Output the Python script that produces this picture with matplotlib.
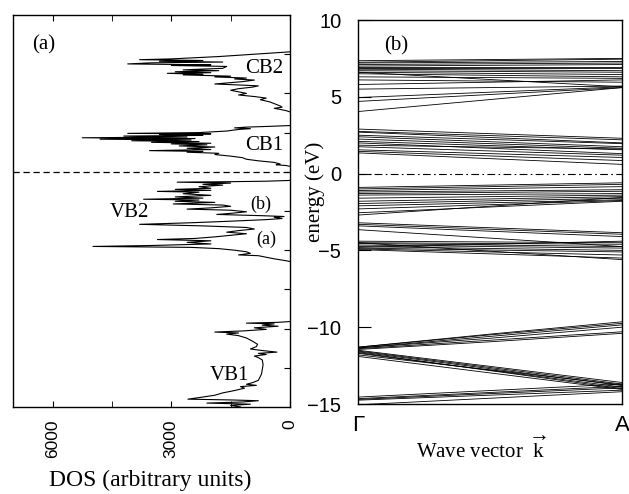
import numpy as np
import matplotlib.pyplot as plt

plt.rcParams['font.family'] = 'Liberation Serif'
plt.rcParams['mathtext.fontset'] = 'custom'
plt.rcParams['mathtext.rm'] = 'Liberation Serif'
plt.rcParams['mathtext.it'] = 'Liberation Serif'

# DOS traces, one per band (energy in eV, DOS in arbitrary units)
cb2_energy = [7.65, 7.6, 7.5, 7.35, 7.2, 7.15, 7.1, 7.05, 7.0, 6.95, 6.88, 6.82, 6.78, 6.72,
              6.6, 6.5, 6.45, 6.38, 6.32, 6.28, 6.22, 6.18, 6.1, 6.05, 5.98, 5.92, 5.85,
              5.75, 5.6, 5.55, 5.48, 5.4, 5.3, 5.2, 5.1, 5.0, 4.9, 4.8, 4.7, 4.6, 4.45,
              4.3, 4.2, 4.12, 4.05, 3.98, 3.9, 3.82]
cb2_dos = [0, 300, 900, 1800, 3000, 3800, 2200, 3300, 1700, 3500, 4100, 2000, 3000, 1600,
           1700, 2700, 1800, 2900, 2000, 3100, 2200, 2700, 1500, 1900, 1100, 1400, 900,
           1200, 1900, 1400, 800, 950, 1300, 1500, 1300, 1100, 1300, 900, 600, 750, 500,
           350, 250, 200, 400, 250, 100, 0]

cb1_energy = [2.95, 2.9, 2.85, 2.8, 2.75, 2.7, 2.6, 2.5, 2.45, 2.42, 2.38, 2.32, 2.28, 2.22,
              2.17, 2.12, 2.08, 2.03, 1.98, 1.93, 1.88, 1.82, 1.78, 1.72, 1.65, 1.58, 1.5,
              1.42, 1.35, 1.3, 1.25, 1.18, 1.1, 1.0, 0.9, 0.8, 0.7, 0.6, 0.5, 0.45, 0.4, 0.35]
cb1_dos = [0, 500, 1100, 1400, 1000, 1300, 1600, 2300, 4100, 2000, 3300, 2200, 4200, 2600,
           5250, 2400, 4800, 2500, 4000, 2300, 3500, 2000, 3000, 2100, 2800, 1900, 2600,
           2000, 3550, 2200, 2600, 1800, 1900, 1500, 1200, 1100, 800, 400, 250, 350, 100, 0]

vb2_energy = [-0.55, -0.6, -0.63, -0.66, -0.72, -0.8, -0.85, -0.95, -1.05, -1.12, -1.18,
              -1.25, -1.3, -1.4, -1.5, -1.6, -1.68, -1.75, -1.8, -1.88, -1.95, -2.05, -2.12,
              -2.2, -2.3, -2.38, -2.45, -2.55, -2.65, -2.72, -2.8, -2.85, -2.9, -2.98, -3.05,
              -3.15, -3.25, -3.35, -3.45, -3.55, -3.65, -3.75, -3.85, -3.95, -4.05, -4.15,
              -4.25, -4.32, -4.4, -4.5, -4.6, -4.7, -4.76, -4.82, -4.9, -5.0, -5.1, -5.2,
              -5.3, -5.35, -5.45, -5.55, -5.65, -5.72]
vb2_dos = [0, 600, 1500, 2850, 1500, 2200, 1700, 2300, 2000, 2900, 2000,
           3350, 2300, 2700, 2000, 2900, 2200, 3700, 2300, 2900, 1900, 2950, 1700,
           1500, 2000, 2600, 1500, 1100, 1500, 1850, 700, 150, 400, 200, 600,
           1500, 2500, 3800, 2200, 1100, 900, 1300, 1600, 1100, 1500, 1900,
           2400, 3350, 2000, 2600, 2000, 3500, 4980, 2500, 1800, 1400, 1100, 1000,
           1300, 800, 600, 400, 150, 0]

vb1_energy = [-9.55, -9.6, -9.65, -9.7, -9.78, -9.85, -9.95, -10.05, -10.15, -10.22, -10.28,
              -10.35, -10.45, -10.6, -10.8, -11.0, -11.15, -11.3, -11.4, -11.5, -11.58,
              -11.65, -11.75, -11.85, -12.0, -12.3, -12.6, -12.9, -13.1, -13.3, -13.45,
              -13.55, -13.62, -13.7, -13.8, -13.95, -14.1, -14.25, -14.4, -14.5, -14.55,
              -14.6, -14.68, -14.75, -14.82, -14.9, -15.0]
vb1_dos = [0, 300, 1100, 400, 700, 300, 900, 600, 1200, 1900, 1300,
           1600, 1300, 1100, 950, 820, 850, 1000, 700, 330, 800,
           600, 900, 800, 700, 680, 700, 720, 760, 800, 950,
           1100, 850, 1250, 1150, 1400, 1700, 1900, 2300, 2580, 1500,
           800, 1200, 2100, 1000, 1500, 1250]

# band structure: energies at Gamma and at A
band_gamma = [7.35, 7.25, 7.2, 7.1, 7.0, 6.95, 6.85, 6.8, 6.7, 6.6, 6.5, 6.3, 6.1, 6.6,
              5.8, 5.5, 4.95, 4.7, 4.04,
              2.9, 2.75, 2.7, 2.5, 2.4, 2.25, 2.1, 2.0, 1.85, 1.75, 1.55, 1.45, 1.35,
              -0.9, -1.0, -1.1, -1.2, -1.3, -1.4, -1.6, -1.8, -1.95, -2.1, -2.3, -2.55, -2.7,
              -3.2, -3.3, -3.4, -3.65, -4.4, -4.5, -4.55, -4.65, -4.75, -4.85, -4.9, -4.95,
              -4.5, -4.8,
              -11.5, -11.55, -11.6, -11.7, -11.8, -11.9, -11.65,
              -14.55, -14.65, -14.7, -14.75, -15.05]
band_a = [7.5, 7.45, 7.3, 7.2, 7.1, 6.95, 6.85, 6.7, 6.6, 6.45, 6.3, 6.2, 5.95, 5.65,
          6.1, 5.7, 5.65, 5.6, 5.6,
          2.3, 2.2, 2.0, 1.95, 1.75, 1.65, 1.55, 1.3, 1.6, 1.2, 1.05, 0.85, 0.6,
          -0.6, -0.7, -0.85, -1.05, -1.15, -1.3, -1.4, -1.5, -1.6, -1.7, -1.75, -1.8, -1.55,
          -3.85, -3.95, -4.1, -4.75, -4.5, -4.6, -4.75, -4.85, -5.0, -5.1, -5.3, -5.5,
          -5.6, -4.4,
          -13.6, -13.7, -13.8, -13.9, -13.75, -14.05, -14.0,
          -13.7, -13.85, -13.95, -14.1, -14.2]

# bands that bend slightly between Gamma and A
curved_k = [0.0, 0.5, 1.0]
curved_bands = [[-11.3, -10.45, -9.65],
                [-11.3, -10.5, -9.75],
                [-11.35, -10.6, -9.85],
                [-11.35, -10.72, -10.0],
                [-11.4, -10.85, -10.3],
                [-11.45, -10.95, -10.4]]

dos_ticks = [6000, 3000, 0]
energy_ticks = [-15, -10, -5, 0, 5, 10]

fig = plt.figure(figsize=(6.29, 4.94), dpi=100)
ax1 = fig.add_axes([13 / 629, 1 - 407 / 494, 277 / 629, 392 / 494])
ax2 = fig.add_axes([358 / 629, 1 - 404 / 494, 264 / 629, 384 / 494])

# (a) DOS
for e, d in [(cb2_energy, cb2_dos), (cb1_energy, cb1_dos),
             (vb2_energy, vb2_dos), (vb1_energy, vb1_dos)]:
    ax1.plot(d, e, color='black', lw=0.8)
ax1.axhline(0, color='black', lw=0.9, ls=(0, (5, 3)))
ax1.set_xlim(7000, 0)
ax1.set_ylim(-15, 10)
ax1.set_xticks(dos_ticks)
ax1.set_xticklabels([str(t) for t in dos_ticks], rotation=90,
                    family='Liberation Sans', fontsize=12.5)
ax1.set_xticks([4500, 1500], minor=True)
ax1.tick_params(axis='x', which='both', direction='in', top=True, length=4, pad=9)
ax1.set_yticks(np.arange(-12.5, 10, 2.5))
ax1.tick_params(axis='y', left=False, right=True, labelleft=False,
                direction='in', length=4)
for s in ax1.spines.values():
    s.set_linewidth(1.0)

ax1.text(6230, 8.1, '(a)', fontsize=15, ha='center', va='center')
ax1.text(660, 6.6, 'CB2', fontsize=15, ha='center', va='center')
ax1.text(660, 1.65, 'CB1', fontsize=15, ha='center', va='center')
ax1.text(4050, -2.6, 'VB2', fontsize=15, ha='center', va='center')
ax1.text(740, -2.1, '(b)', fontsize=13, ha='center', va='center')
ax1.text(610, -4.3, '(a)', fontsize=13, ha='center', va='center')
ax1.text(1520, -13.0, 'VB1', fontsize=15, ha='center', va='center')

# (b) band structure
for g, a in zip(band_gamma, band_a):
    ax2.plot([0, 1], [g, a], color='black', lw=0.6)
for b in curved_bands:
    ax2.plot(curved_k, b, color='black', lw=0.6)
ax2.axhline(0, color='black', lw=0.8, ls=(0, (7, 3, 1.5, 3)))
ax2.set_xlim(0, 1)
ax2.set_ylim(-15, 10)
ax2.set_yticks(energy_ticks)
ax2.set_yticklabels([str(t).replace('-', '\u2212') for t in energy_ticks],
                    family='Liberation Sans', fontsize=14.5)
ax2.tick_params(axis='y', direction='in', length=9, pad=12)
ax2.set_xticks([0, 1])
ax2.set_xticklabels(['\u0393', 'A'], family='Liberation Sans', fontsize=16)
ax2.tick_params(axis='x', length=0, pad=8)
for s in ax2.spines.values():
    s.set_linewidth(1.0)
ax2.text(0.144, 8.3, '(b)', fontsize=15, ha='center', va='center')

fig.text(315 / 629, 1 - 192 / 494, 'energy (eV)', rotation=90, fontsize=15,
         ha='center', va='center')
fig.text(482 / 629, 1 - 450 / 494, r'Wave vector  $\overrightarrow{\mathrm{k}}$',
         fontsize=15, ha='center', va='center')
fig.text(150 / 629, 1 - 480 / 494, 'DOS (arbitrary units)', fontsize=17,
         ha='center', va='center')

fig.savefig('out.png', dpi=100)
